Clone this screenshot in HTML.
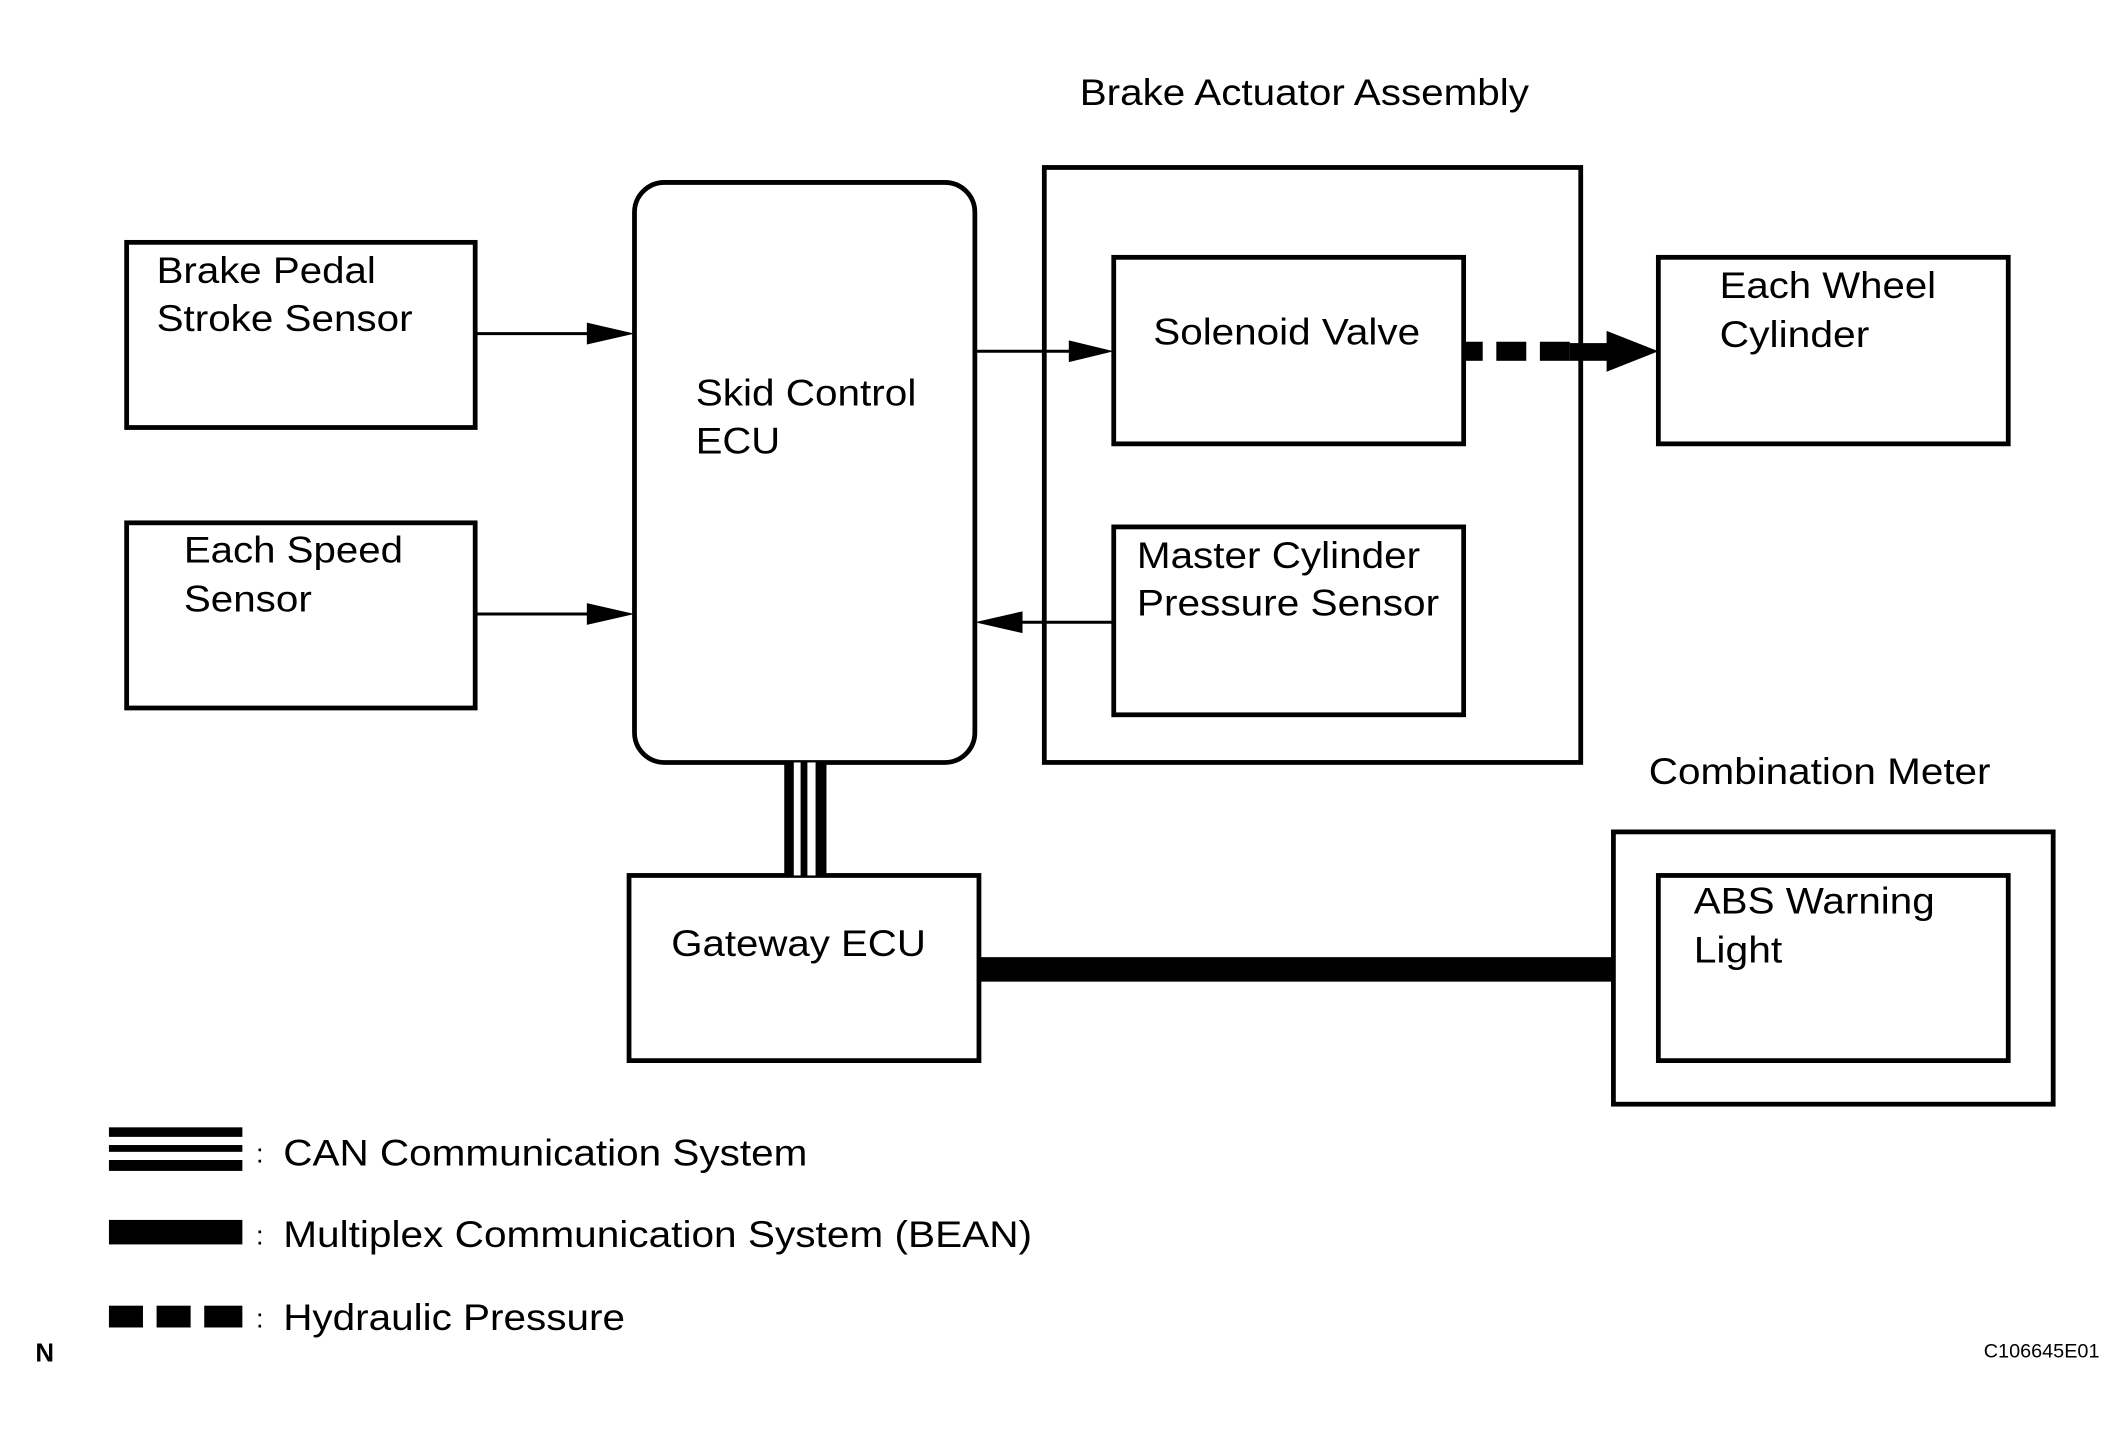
<!DOCTYPE html>
<html><head><meta charset="utf-8"><style>html,body{margin:0;padding:0;background:#fff}svg{display:block}</style></head>
<body>
<svg xmlns="http://www.w3.org/2000/svg" width="2124" height="1430" viewBox="0 0 1560 1050.3" font-family="Liberation Sans, Arial, sans-serif" font-size="27">
<rect width="1560" height="1051" fill="#fff"/>
<g fill="none" stroke="#000" stroke-width="3.5">
<rect x="93" y="178" width="256" height="136"/>
<rect x="93" y="384" width="256" height="136"/>
<rect x="466" y="134" width="250" height="426" rx="22"/>
<rect x="767" y="123" width="394" height="437"/>
<rect x="818" y="189" width="257" height="137"/>
<rect x="818" y="387" width="257" height="138"/>
<rect x="1218" y="189" width="257" height="137"/>
<rect x="1185" y="611" width="323" height="200"/>
<rect x="1218" y="643" width="257" height="136"/>
<rect x="462" y="643" width="257" height="136"/>
</g>
<g stroke="#000" stroke-width="2.2">
<line x1="349" y1="245" x2="440" y2="245"/>
<line x1="349" y1="451" x2="440" y2="451"/>
<line x1="716" y1="258" x2="792" y2="258"/>
<line x1="745" y1="457" x2="818" y2="457"/>
</g>
<g fill="#000">
<polygon points="431,237 466,245 431,253"/>
<polygon points="431,443 466,451 431,459"/>
<polygon points="785,250 818,258 785,266"/>
<polygon points="751,449 716,457 751,465"/>
<rect x="1075" y="251" width="14" height="14"/>
<rect x="1099" y="251" width="22" height="14"/>
<rect x="1131" y="251" width="22" height="14"/>
<rect x="1153" y="252" width="30" height="13"/>
<polygon points="1180,243 1218,258 1180,273"/>
<rect x="576" y="560" width="31" height="83"/>
<rect x="719" y="703" width="466" height="18"/>
<rect x="80" y="828" width="98" height="7"/>
<rect x="80" y="841" width="98" height="5"/>
<rect x="80" y="852" width="98" height="8"/>
<rect x="80" y="896" width="98" height="18"/>
<rect x="80" y="959" width="25" height="16"/>
<rect x="115" y="959" width="25" height="16"/>
<rect x="150" y="959" width="28" height="16"/>
</g>
<rect x="583" y="560" width="5" height="83" fill="#fff"/>
<rect x="593" y="560" width="6" height="83" fill="#fff"/>
<g fill="#000">
<text x="793" y="77" textLength="330" lengthAdjust="spacingAndGlyphs">Brake Actuator Assembly</text>
<text x="115" y="208" textLength="161" lengthAdjust="spacingAndGlyphs">Brake Pedal</text>
<text x="115" y="243" textLength="188" lengthAdjust="spacingAndGlyphs">Stroke Sensor</text>
<text x="135" y="413" textLength="161" lengthAdjust="spacingAndGlyphs">Each Speed</text>
<text x="135" y="449" textLength="94" lengthAdjust="spacingAndGlyphs">Sensor</text>
<text x="511" y="298" textLength="162" lengthAdjust="spacingAndGlyphs">Skid Control</text>
<text x="511" y="333" textLength="62" lengthAdjust="spacingAndGlyphs">ECU</text>
<text x="847" y="253" textLength="196" lengthAdjust="spacingAndGlyphs">Solenoid Valve</text>
<text x="835" y="417" textLength="208" lengthAdjust="spacingAndGlyphs">Master Cylinder</text>
<text x="835" y="452" textLength="222" lengthAdjust="spacingAndGlyphs">Pressure Sensor</text>
<text x="1263" y="219" textLength="159" lengthAdjust="spacingAndGlyphs">Each Wheel</text>
<text x="1263" y="255" textLength="110" lengthAdjust="spacingAndGlyphs">Cylinder</text>
<text x="1211" y="576" textLength="251" lengthAdjust="spacingAndGlyphs">Combination Meter</text>
<text x="1244" y="671" textLength="177" lengthAdjust="spacingAndGlyphs">ABS Warning</text>
<text x="1244" y="707" textLength="65" lengthAdjust="spacingAndGlyphs">Light</text>
<text x="493" y="702" textLength="187" lengthAdjust="spacingAndGlyphs">Gateway ECU</text>
<text x="188" y="854" font-size="20">:</text>
<text x="188" y="914" font-size="20">:</text>
<text x="188" y="975" font-size="20">:</text>
<text x="208" y="856" textLength="385" lengthAdjust="spacingAndGlyphs">CAN Communication System</text>
<text x="208" y="916" textLength="550" lengthAdjust="spacingAndGlyphs">Multiplex Communication System (BEAN)</text>
<text x="208" y="977" textLength="251" lengthAdjust="spacingAndGlyphs">Hydraulic Pressure</text>
<text x="26" y="1000" font-size="19" font-weight="bold">N</text>
<text x="1457" y="997" font-size="14" textLength="85" lengthAdjust="spacingAndGlyphs">C106645E01</text>
</g>
</svg>
</body></html>
